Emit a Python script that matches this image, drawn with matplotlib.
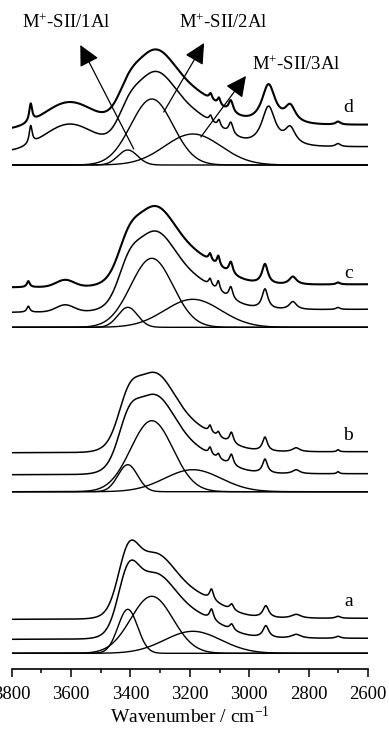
import numpy as np
import matplotlib
matplotlib.use("Agg")
import matplotlib.pyplot as plt

plt.rcParams['font.family'] = ['Liberation Serif', 'DejaVu Serif']
plt.rcParams['mathtext.fontset'] = 'custom'
plt.rcParams['mathtext.rm'] = 'Liberation Serif'
plt.rcParams['mathtext.it'] = 'Liberation Serif:italic'

samples = ['a', 'b', 'c', 'd']

# gaussian components M+-SII/1Al, 2Al, 3Al (cm-1, a.u.)
comp_pos = [3409, 3328, 3190]
comp_sigma = [33, 71, 95]
comp_a = [44, 57, 22]
comp_b = [27, 71, 22]
comp_c = [20, 69, 28]
comp_d = [15, 66, 31]

# sloping background of the fitted sum (at 3800, at 2600)
bg_a = [14, 15]
bg_b = [17, 18]
bg_c = [15, 18]
bg_d = [13, 18]

# broad band near 3600 (pos, height, sigma)
hump_a = [3600, 0, 50]
hump_b = [3600, 0, 50]
hump_c = [3620, 7, 30]
hump_d = [3605, 27, 85]

# narrow bands (lorentzian)
nb_pos_a = [3127, 3059, 2944, 2842, 2701]
nb_h_a = [11, 6, 12, 4, 2]
nb_w_a = [8, 8, 12, 20, 10]

nb_pos_b = [3132, 3104, 3060, 2947, 2842, 2701]
nb_h_b = [7, 5, 11, 14, 4, 2]
nb_w_b = [6, 6, 8, 10, 15, 5]

nb_pos_c = [3744, 3132, 3104, 3062, 2947, 2853, 2701]
nb_h_c = [6, 7, 10, 12, 20, 8, 2]
nb_w_c = [6, 6, 6, 8, 12, 15, 8]

nb_pos_d = [3736, 3130, 3102, 3062, 2935, 2862, 2701]
nb_h_d = [18, 6, 7, 12, 40, 17, 3]
nb_w_d = [6, 6, 6, 9, 28, 22, 10]

# shift of measured spectrum above the fitted one
exp_shift = [20, 22, 25, 22]

comps = [comp_a, comp_b, comp_c, comp_d]
bgs = [bg_a, bg_b, bg_c, bg_d]
humps = [hump_a, hump_b, hump_c, hump_d]
nbs = [(nb_pos_a, nb_h_a, nb_w_a), (nb_pos_b, nb_h_b, nb_w_b),
       (nb_pos_c, nb_h_c, nb_w_c), (nb_pos_d, nb_h_d, nb_w_d)]

# vertical stacking of the four panels
stack = [15.7, 177.3, 341.7, 504]

wn = np.linspace(3800, 2600, 1201)


def gauss(x, c, h, s):
    return h * np.exp(-(x - c)**2 / (2 * s**2))


def lorentz(x, c, h, g):
    return h / (1 + ((x - c) / g)**2)


fig = plt.figure(figsize=(3.89, 7.34), dpi=100)
ax = fig.add_axes([11.7 / 389, 65 / 734, (368 - 11.7) / 389, 669 / 734])

for i, s in enumerate(samples):
    y0 = stack[i]
    parts = [gauss(wn, comp_pos[k], comps[i][k], comp_sigma[k]) for k in range(3)]
    for p in parts:
        ax.plot(wn, y0 + p, color='k', lw=1.0)
    bl, br = bgs[i]
    fit = bl + (br - bl) * (3800 - wn) / 1200 + sum(parts)
    fit = fit + gauss(wn, *humps[i])
    for c, h, g in zip(*nbs[i]):
        fit = fit + lorentz(wn, c, h, g)
    ax.plot(wn, y0 + fit, color='k', lw=1.1)
    lw_exp = 1.5 if s in ('c', 'd') else 1.1
    ax.plot(wn, y0 + fit + exp_shift[i], color='k', lw=lw_exp)

# panel letters
letter_y = [67, 234, 396, 561]
for s, ly in zip(samples, letter_y):
    ax.text(2666, ly, s, fontsize=14, ha='center', va='center')

# component labels with arrows
arrow_style = dict(arrowstyle='-|>,head_length=0.9,head_width=0.45',
                   color='k', lw=0.9, mutation_scale=14, shrinkA=0, shrinkB=0)
ax.annotate('', xy=(3569, 624), xytext=(3389, 520), arrowprops=arrow_style)
ax.annotate('', xy=(3152, 626), xytext=(3288, 557), arrowprops=arrow_style)
ax.annotate('', xy=(3011, 593), xytext=(3163, 532), arrowprops=arrow_style)
ax.text(3615, 646, 'M$^{+}$-SII/1Al', fontsize=13.5, ha='center', va='center')
ax.text(3087, 646, 'M$^{+}$-SII/2Al', fontsize=13.5, ha='center', va='center')
ax.text(2841, 604, 'M$^{+}$-SII/3Al', fontsize=13.5, ha='center', va='center')

ax.set_xlim(3800, 2600)
ax.set_ylim(0, 669)
ax.set_xticks(np.arange(3800, 2599, -200))
ax.set_xticks(np.arange(3700, 2600, -200), minor=True)
ax.set_yticks([])
for side in ['left', 'right', 'top']:
    ax.spines[side].set_visible(False)
ax.spines['bottom'].set_linewidth(1.2)
ax.tick_params(axis='x', which='major', direction='out', length=6, width=1.1,
               labelsize=13.5, pad=6)
ax.tick_params(axis='x', which='minor', direction='out', length=3, width=1.1)
ax.set_xlabel('Wavenumber / cm$^{-1}$', fontsize=14, labelpad=2)
ax.patch.set_alpha(0)

fig.savefig('out.png', dpi=100)
